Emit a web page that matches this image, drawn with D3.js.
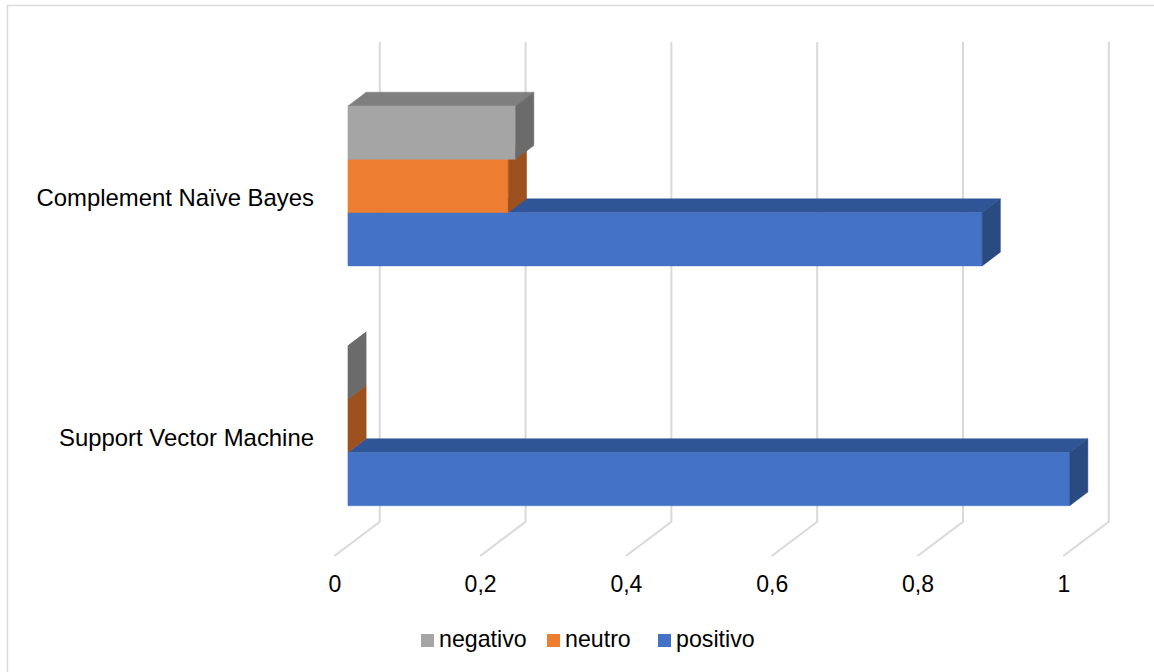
<!DOCTYPE html>
<html>
<head>
<meta charset="utf-8">
<script src="https://cdn.jsdelivr.net/npm/d3@7"></script>
<style>
  html, body { margin: 0; padding: 0; background: #fff; }
  svg { display: block; font-family: "Liberation Sans", Arial, sans-serif; }
</style>
</head>
<body>
<svg id="chart" width="1154" height="672"></svg>
<script>
// Categories (top to bottom) and series
const categories = ["Complement Naïve Bayes", "Support Vector Machine"];
const seriesNames = ["negativo", "neutro", "positivo"];

// Values per series, in category order
const negativo = [0.23, 0.0];
const neutro   = [0.22, 0.0];
const positivo = [0.87, 0.99];

const tickValues = [0, 0.2, 0.4, 0.6, 0.8, 1];
const tickLabels = ["0", "0,2", "0,4", "0,6", "0,8", "1"];

const seriesValues = { negativo, neutro, positivo };

// Face colours: front, top, side
const palette = {
  negativo: { front: "#A5A5A5", top: "#7F7F7F", side: "#6B6B6B" },
  neutro:   { front: "#ED7D31", top: "#B5601F", side: "#9C511E" },
  positivo: { front: "#4472C4", top: "#2F5597", side: "#2A4A82" }
};

const svg = d3.select("#chart");

// Outer chart frame
svg.append("rect")
  .attr("x", 7.5).attr("y", 5.5)
  .attr("width", 1160).attr("height", 680)
  .attr("fill", "none").attr("stroke", "#d9d9d9").attr("stroke-width", 1.5);

// Oblique 3D projection: value along x, category band along y, depth d in [0,1]
const DX = 45.5, DY = 34.3;
const x = d3.scaleLinear().domain([0, 1]).range([334.3, 1063.3]);
const yCat = d3.scaleBand().domain(categories).range([76.3, 556]);
const ySer = d3.scaleBand().domain(seriesNames)
  .range([0, yCat.bandwidth()]).paddingInner(0).paddingOuter(0.75);

const P = (v, yw, d) => [x(v) + d * DX, yw - d * DY];
const poly = pts => "M" + pts.map(p => p.join(",")).join("L") + "Z";

// Gridlines: back wall vertical segment plus floor diagonal
const grid = svg.append("g");
tickValues.forEach(t => {
  const pts = [P(t, yCat.range()[0], 1), P(t, yCat.range()[1], 1), P(t, yCat.range()[1], 0)];
  grid.append("path")
    .attr("d", "M" + pts.map(p => p.join(",")).join("L"))
    .attr("fill", "none").attr("stroke", "#d9d9d9").attr("stroke-width", 2);
});

// Tick labels at the front edge of the floor
svg.append("g").selectAll("text")
  .data(tickValues)
  .join("text")
  .attr("x", d => x(d) + 0.5)
  .attr("y", 592)
  .attr("text-anchor", "middle")
  .attr("font-size", 23)
  .attr("fill", "#000")
  .text((d, i) => tickLabels[i]);

// Bars: draw bottom series first so upper bars overlap lower top faces
const d0 = 0.3, d1 = 0.7;
const bars = svg.append("g");
categories.forEach((cat, ci) => {
  seriesNames.slice().reverse().forEach(s => {
    const v = seriesValues[s][ci];
    const yt = yCat(cat) + ySer(s);
    const yb = yt + ySer.bandwidth();
    const c = palette[s];
    const g = bars.append("g");
    // top face
    g.append("path")
      .attr("d", poly([P(0, yt, d0), P(v, yt, d0), P(v, yt, d1), P(0, yt, d1)]))
      .attr("fill", c.top).attr("stroke", c.top).attr("stroke-width", 0.5);
    // front face
    if (v > 0) {
      g.append("path")
        .attr("d", poly([P(0, yt, d0), P(v, yt, d0), P(v, yb, d0), P(0, yb, d0)]))
        .attr("fill", c.front).attr("stroke", c.front).attr("stroke-width", 0.5);
    }
    // side face
    g.append("path")
      .attr("d", poly([P(v, yt, d0), P(v, yt, d1), P(v, yb, d1), P(v, yb, d0)]))
      .attr("fill", c.side).attr("stroke", c.side).attr("stroke-width", 0.5);
  });
});

// Category labels
svg.append("g").selectAll("text")
  .data(categories)
  .join("text")
  .attr("x", 314)
  .attr("y", d => yCat(d) + yCat.bandwidth() / 2 + 10)
  .attr("text-anchor", "end")
  .attr("font-size", 23.9)
  .attr("fill", "#000")
  .text(d => d);

// Legend
const legendX = [421, 547, 658];
const legend = svg.append("g");
seriesNames.forEach((s, i) => {
  legend.append("rect")
    .attr("x", legendX[i]).attr("y", 634)
    .attr("width", 13).attr("height", 13)
    .attr("fill", palette[s].front);
  legend.append("text")
    .attr("x", legendX[i] + 18).attr("y", 647)
    .attr("font-size", 23.2)
    .attr("fill", "#000")
    .text(s);
});
</script>
</body>
</html>
